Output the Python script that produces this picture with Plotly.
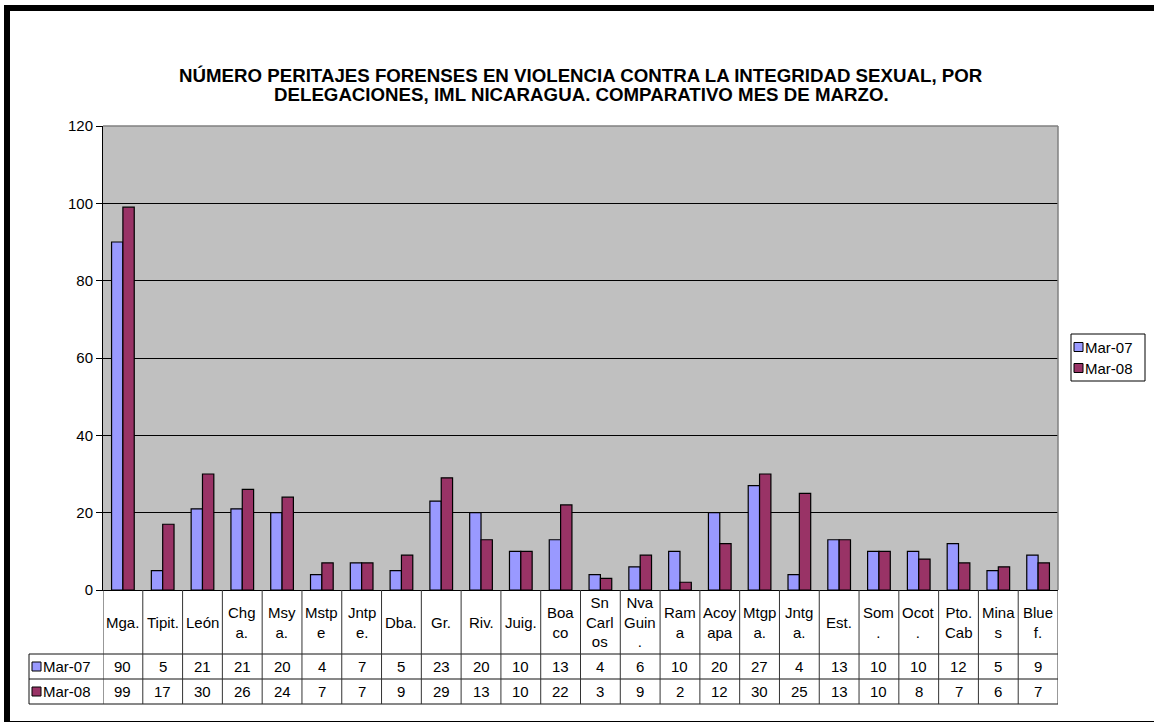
import plotly.graph_objects as go

# ---------------- data ----------------
categories = ["Mga.", "Tipit.", "León", "Chg<br>a.", "Msy<br>a.", "Mstp<br>e", "Jntp<br>e.",
              "Dba.", "Gr.", "Riv.", "Juig.", "Boa<br>co", "Sn<br>Carl<br>os", "Nva<br>Guin<br>.",
              "Ram<br>a", "Acoy<br>apa", "Mtgp<br>a.", "Jntg<br>a.", "Est.", "Som<br>.",
              "Ocot<br>.", "Pto.<br>Cab", "Mina<br>s", "Blue<br>f."]
mar07 = [90, 5, 21, 21, 20, 4, 7, 5, 23, 20, 10, 13, 4, 6, 10, 20, 27, 4, 13, 10, 10, 12, 5, 9]
mar08 = [99, 17, 30, 26, 24, 7, 7, 9, 29, 13, 10, 22, 3, 9, 2, 12, 30, 25, 13, 10, 8, 7, 6, 7]
series_names = ["Mar-07", "Mar-08"]
y_ticks = [0, 20, 40, 60, 80, 100, 120]
title_lines = ["NÚMERO PERITAJES FORENSES EN VIOLENCIA CONTRA LA INTEGRIDAD SEXUAL, POR",
               "DELEGACIONES, IML NICARAGUA. COMPARATIVO MES DE MARZO."]

# ---------------- style ----------------
C07 = "#9999FF"
C08 = "#993366"
FONT = "Arial, Liberation Sans, sans-serif"
FS = 15
W, H = 1154, 724
L, R, T, B = 103, 1058, 126, 590


def px2x(px):
    return (px - L) / (R - L)


def py2y(py):
    return (B - py) / (B - T)


fig = go.Figure()
for name, vals, col in [(series_names[0], mar07, C07), (series_names[1], mar08, C08)]:
    fig.add_trace(go.Bar(
        x=list(range(len(categories))), y=vals, name=name,
        marker=dict(color=col, line=dict(color="black", width=1.2)),
        hoverinfo="y+name", showlegend=False,
    ))

shapes = []
annotations = []

# frame
shapes.append(dict(type="rect", xref="paper", yref="paper", x0=px2x(4), x1=px2x(1154),
                   y0=py2y(5), y1=py2y(11), fillcolor="black", line=dict(width=0)))
shapes.append(dict(type="rect", xref="paper", yref="paper", x0=px2x(4), x1=px2x(10),
                   y0=py2y(5), y1=py2y(721), fillcolor="black", line=dict(width=0)))
shapes.append(dict(type="line", xref="paper", yref="paper", x0=px2x(4), x1=px2x(1154),
                   y0=py2y(721.5), y1=py2y(721.5), line=dict(color="black", width=1)))

# plot border top/right (grey)
shapes.append(dict(type="line", xref="paper", yref="paper", x0=0, x1=1, y0=1, y1=1,
                   line=dict(color="#808080", width=1.5)))
shapes.append(dict(type="line", xref="paper", yref="paper", x0=1, x1=1, y0=0, y1=1,
                   line=dict(color="#808080", width=1.5)))

# data table
row_tops = [B, 654, 679, 704]
for py in row_tops[1:]:
    shapes.append(dict(type="line", xref="paper", yref="paper", x0=px2x(29), x1=1,
                       y0=py2y(py), y1=py2y(py), line=dict(color="#111", width=1)))
shapes.append(dict(type="line", xref="paper", yref="paper", x0=px2x(29), x1=px2x(29),
                   y0=py2y(654), y1=py2y(704), line=dict(color="#111", width=1)))
for i in range(len(categories) + 1):
    shapes.append(dict(type="line", xref="x", yref="paper", x0=i - 0.5, x1=i - 0.5,
                       y0=0, y1=py2y(704), line=dict(color="#333", width=1)))

hdr_c = (row_tops[0] + row_tops[1]) / 2
r1_c = (row_tops[1] + row_tops[2]) / 2
r2_c = (row_tops[2] + row_tops[3]) / 2
for i, cat in enumerate(categories):
    for txt, yc in [(cat, hdr_c), (str(mar07[i]), r1_c), (str(mar08[i]), r2_c)]:
        annotations.append(dict(x=i, y=py2y(yc), xref="x", yref="paper", text=txt,
                                showarrow=False, xanchor="center", yanchor="middle",
                                font=dict(family=FONT, size=FS, color="black")))

for name, col, yc in [(series_names[0], C07, r1_c), (series_names[1], C08, r2_c)]:
    shapes.append(dict(type="rect", xref="paper", yref="paper", x0=px2x(32), x1=px2x(41),
                       y0=py2y(yc + 4.5), y1=py2y(yc - 4.5), fillcolor=col,
                       line=dict(color="black", width=1)))
    annotations.append(dict(x=px2x(41), y=py2y(yc), xref="paper", yref="paper", text=name,
                            showarrow=False, xanchor="left", yanchor="middle",
                            font=dict(family=FONT, size=FS, color="black")))

# legend (drawn box)
shapes.append(dict(type="rect", xref="paper", yref="paper", x0=px2x(1071), x1=px2x(1145),
                   y0=py2y(334), y1=py2y(381), fillcolor="white",
                   line=dict(color="black", width=1)))
for name, col, yc in [(series_names[0], C07, 347), (series_names[1], C08, 368)]:
    shapes.append(dict(type="rect", xref="paper", yref="paper", x0=px2x(1074), x1=px2x(1083),
                       y0=py2y(yc + 4.5), y1=py2y(yc - 4.5), fillcolor=col,
                       line=dict(color="black", width=1)))
    annotations.append(dict(x=px2x(1083), y=py2y(yc), xref="paper", yref="paper", text=name,
                            showarrow=False, xanchor="left", yanchor="middle",
                            font=dict(family=FONT, size=FS, color="black")))

# title (two lines)
for t, yc in zip(title_lines, [75, 95]):
    annotations.append(dict(x=px2x(581), y=py2y(yc), xref="paper", yref="paper",
                            text="<b>" + t + "</b>",
                            showarrow=False, xanchor="center", yanchor="middle",
                            font=dict(family=FONT, size=18.7, color="black")))

fig.update_layout(
    width=W, height=H,
    margin=dict(l=L, r=W - R, t=T, b=H - B, autoexpand=False),
    paper_bgcolor="white", plot_bgcolor="#C0C0C0",
    barmode="group", bargap=0.43, bargroupgap=0,
    font=dict(family=FONT, size=FS, color="black"),
    showlegend=False,
    xaxis=dict(range=[-0.5, len(categories) - 0.5], showticklabels=False, ticks="",
               showgrid=False, zeroline=False, showline=True, linecolor="black", linewidth=1,
               fixedrange=True),
    yaxis=dict(range=[0, 120], tickvals=y_ticks, ticks="outside", ticklen=6, tickcolor="black",
               showgrid=True, gridcolor="black", gridwidth=1, zeroline=False,
               showline=True, linecolor="black", linewidth=1,
               tickfont=dict(family=FONT, size=FS, color="black"), fixedrange=True),
    shapes=shapes, annotations=annotations,
)

fig.write_html("out.html", config={"displayModeBar": False},
               post_script="document.body.style.margin='0';document.body.style.padding='0';")
